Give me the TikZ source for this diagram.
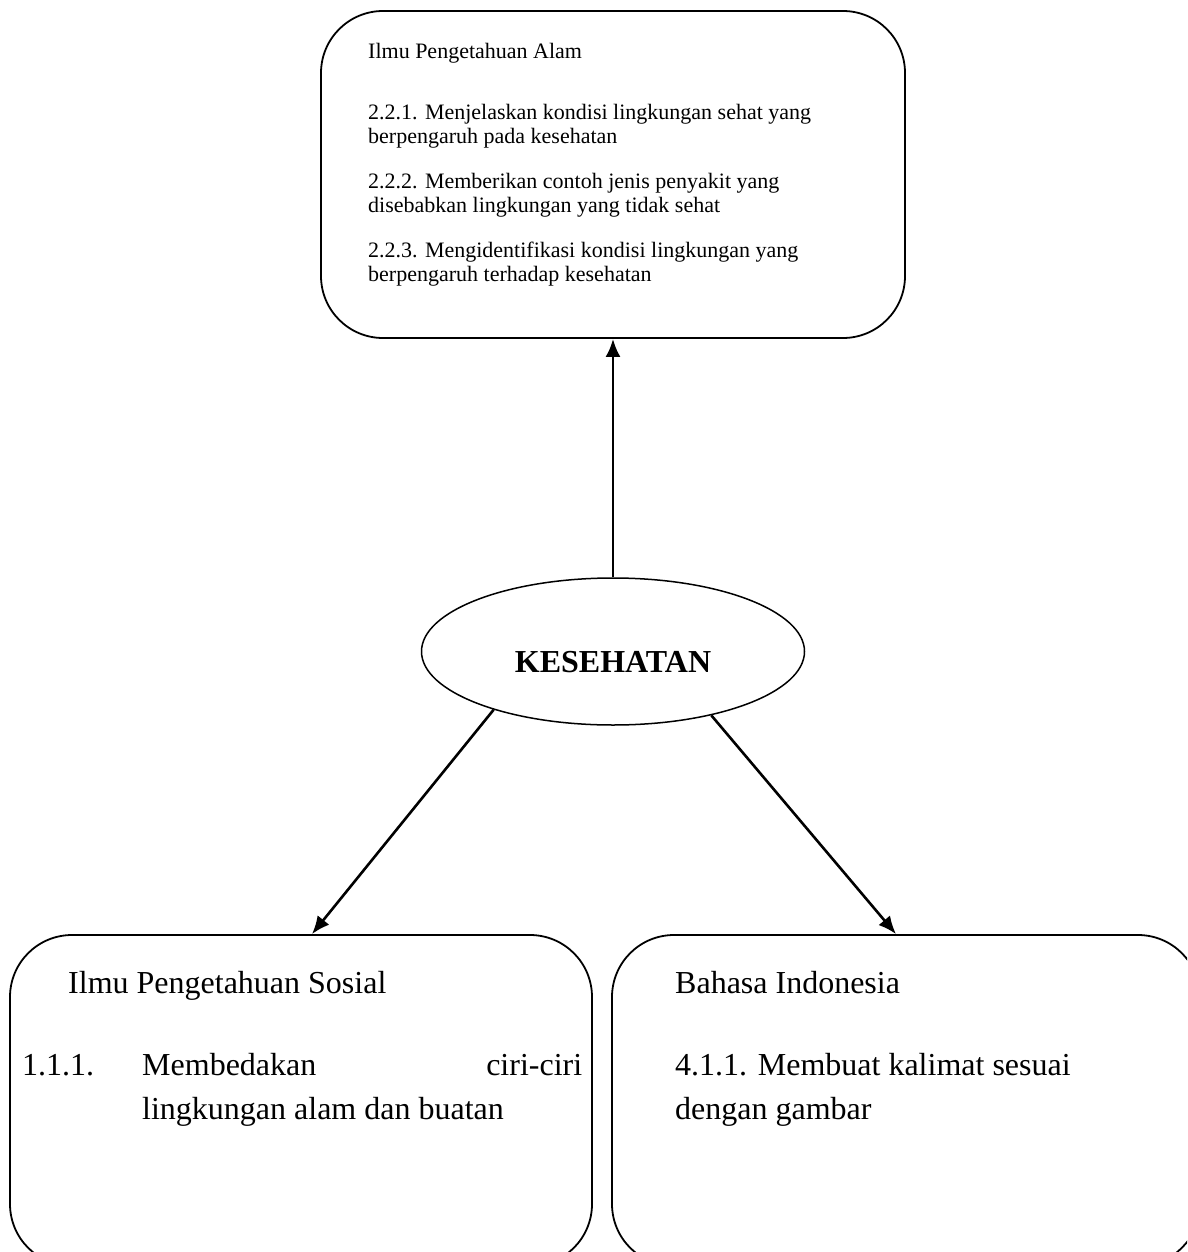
\documentclass[tikz,border=0pt]{standalone}
\usepackage{fontspec}
\setmainfont{Liberation Serif}
\usetikzlibrary{shapes.geometric,arrows.meta}

\tikzset{
  box/.style={draw, line width=1.8pt, rounded corners=62pt, inner sep=0pt},
  topic/.style={draw, ellipse, line width=1.5pt, inner sep=0pt,
    minimum width=383pt, minimum height=147pt,
    text height=42pt, text depth=0pt,
    font=\fontsize{32}{38}\selectfont\bfseries},
  smalltext/.style={anchor=north west, inner sep=0pt, align=left,
    font=\fontsize{22}{24}\selectfont},
  bigtext/.style={anchor=north west, inner sep=0pt, align=left,
    font=\fontsize{32}{44}\selectfont},
  link/.style={-{Latex[length=18pt,width=15pt]}, line width=2.6pt}
}

\begin{document}
\begin{tikzpicture}[x=1pt,y=-1pt]
\useasboundingbox (0,0) rectangle (1187,1252);
\clip (0,0) rectangle (1187,1252);

% Boxes
\node[box, minimum width=584pt, minimum height=327pt] (ipa) at (613,174.5) {};
\node[box, minimum width=582pt, minimum height=331pt] (ips) at (301,1100.5) {};
\node[box, minimum width=588pt, minimum height=331pt] (bi) at (906,1100.5) {};

% Centre
\node[topic] (kes) at (613,651.5) {KESEHATAN};

% Ilmu Pengetahuan Alam
\node[smalltext] (ipatitle) at (368,43) {Ilmu Pengetahuan Alam};
\node[smalltext] (ipaitems) at (368,104) {2.2.1. Menjelaskan kondisi lingkungan sehat yang\\
  berpengaruh pada kesehatan\\[21pt]
  2.2.2. Memberikan contoh jenis penyakit yang\\
  disebabkan lingkungan yang tidak sehat\\[21pt]
  2.2.3. Mengidentifikasi kondisi lingkungan yang\\
  berpengaruh terhadap kesehatan};

% Ilmu Pengetahuan Sosial
\node[bigtext] (ipstitle) at (68,971) {Ilmu Pengetahuan Sosial};
\node[bigtext] (ipsitem) at (22,1053) {\makebox[120pt][l]{1.1.1.}\makebox[440pt][s]{Membedakan ciri-ciri}\\
  \makebox[120pt]{}lingkungan alam dan buatan};

% Bahasa Indonesia
\node[bigtext] (bititle) at (675,971) {Bahasa Indonesia};
\node[bigtext] (biitem) at (675,1053) {4.1.1. Membuat kalimat sesuai\\
  dengan gambar};

% Arrows
\draw[link] (kes.north) -- (ipa.south);
\draw[link] (kes.206) -- ([xshift=11pt]ips.north);
\draw[link] (kes.327) -- ([xshift=-10pt]bi.north);

\end{tikzpicture}
\end{document}
